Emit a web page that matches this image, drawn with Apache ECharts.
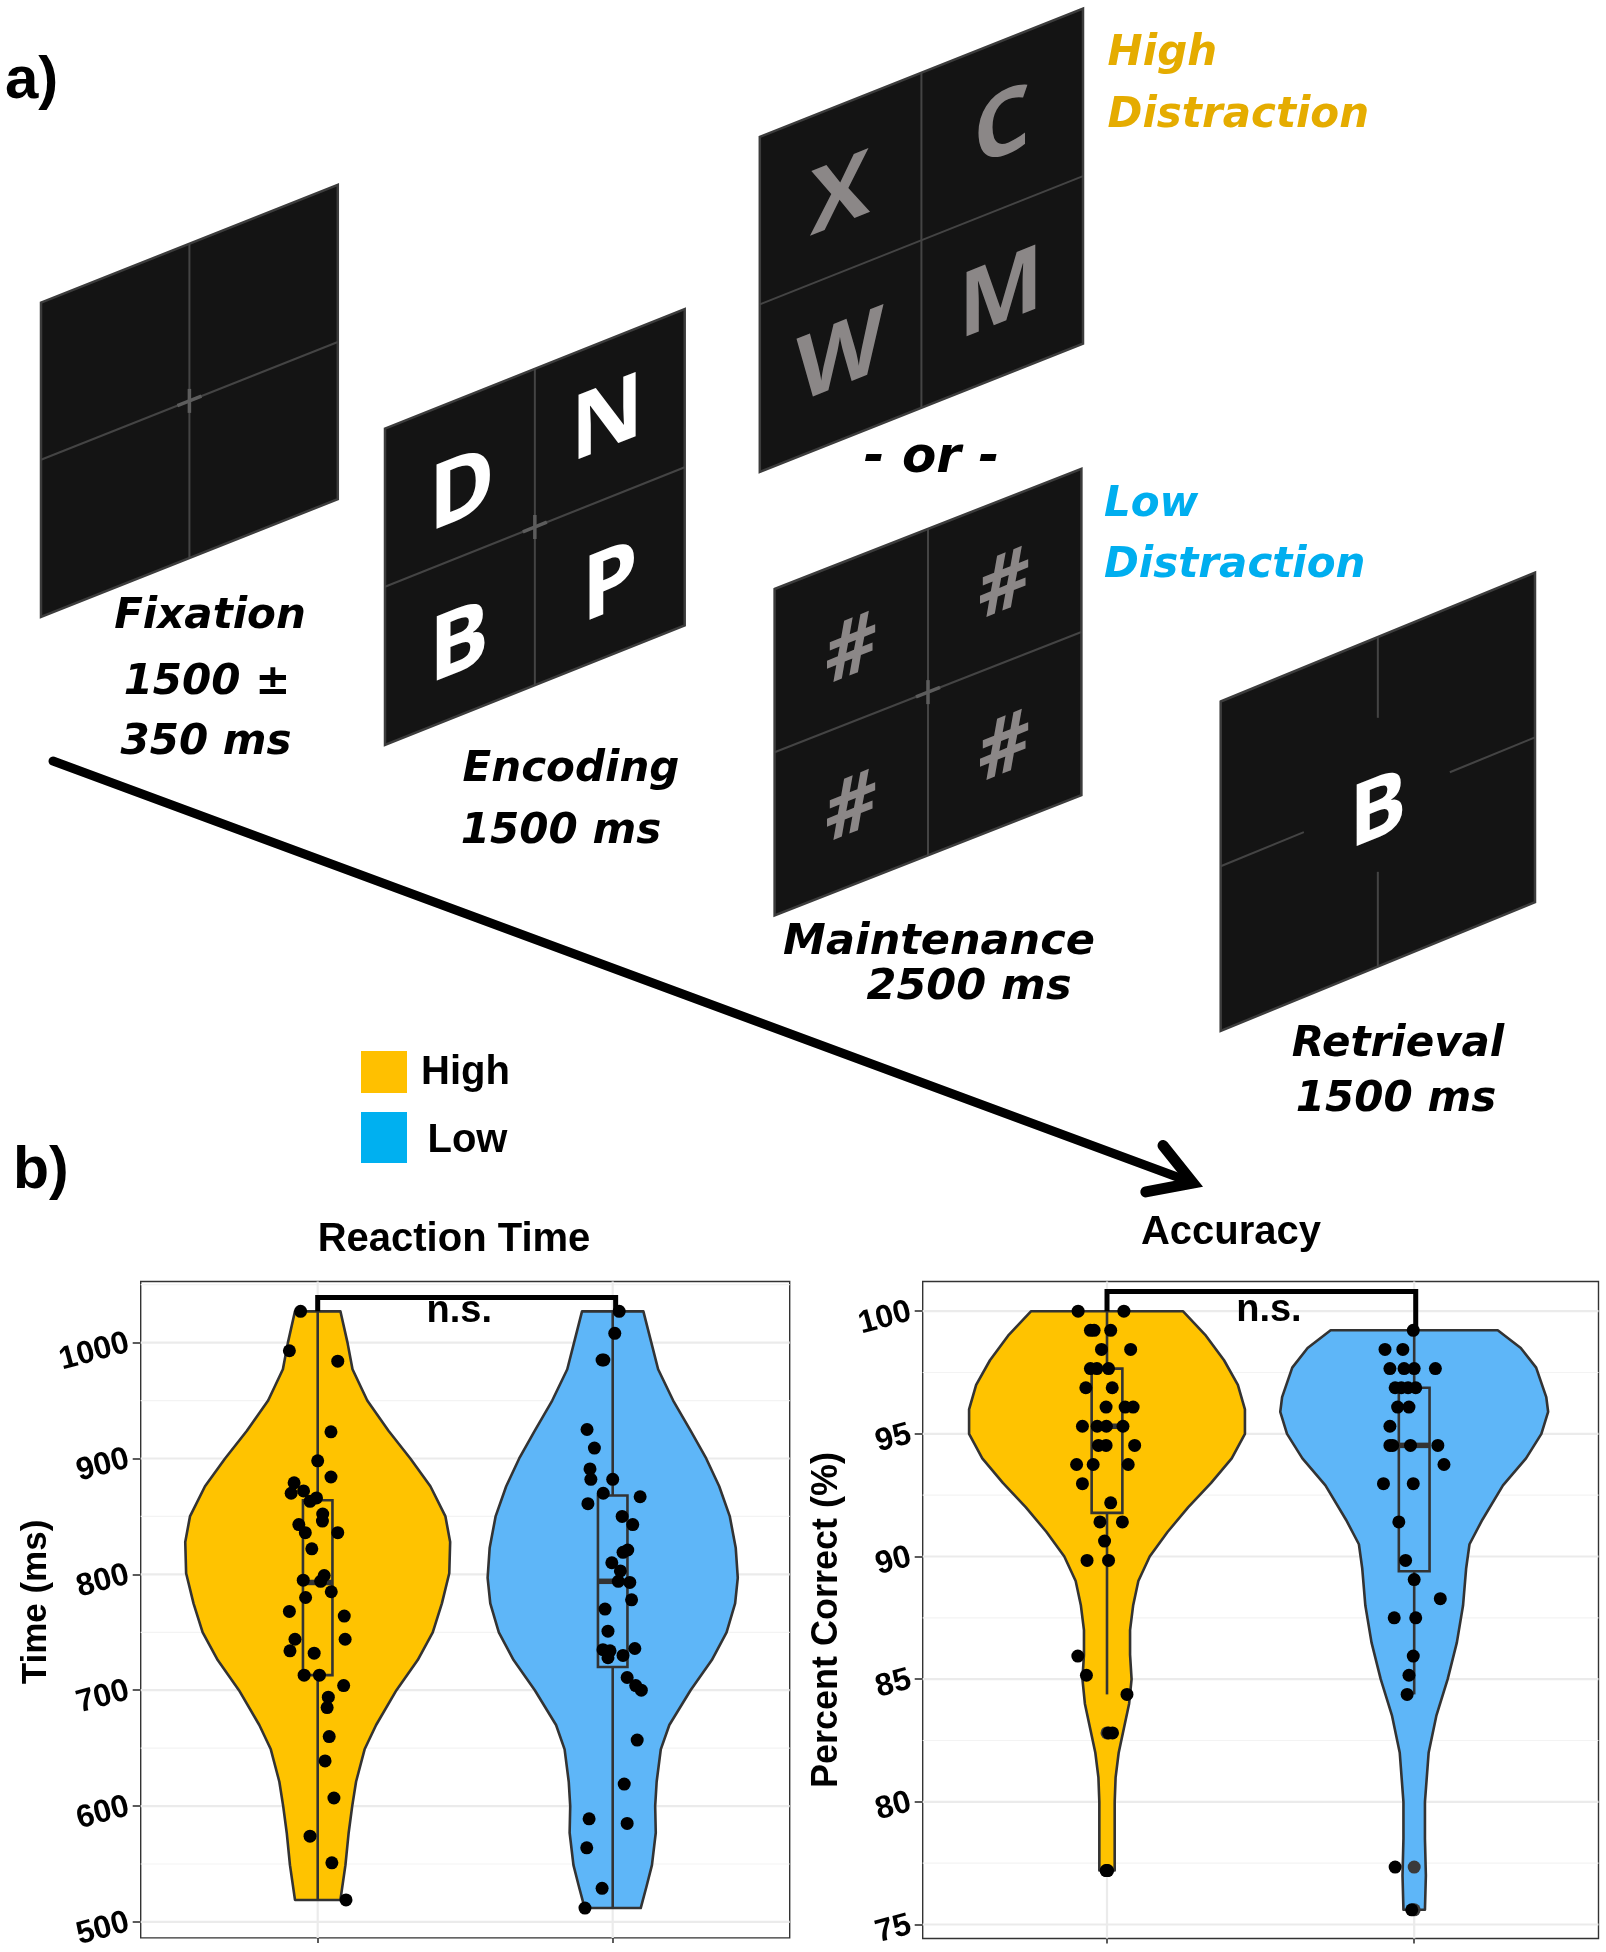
<!DOCTYPE html>
<html><head><meta charset="utf-8">
<script src="https://cdn.jsdelivr.net/npm/echarts@6/dist/echarts.min.js"></script>
<style>html,body{margin:0;padding:0;background:#fff}#c{width:1606px;height:1952px}</style>
</head><body><div id="c"></div>
<script>
// ================= DATA =================
const groups = ['High', 'Low'];
const groupColors = ['#FFC300', '#5EB6F8'];
const legendColors = ['#FFC000', '#00B0F0'];

// Reaction time: jittered points [x offset from category, ms]
const rtHighPts = [[-0.058,1027],[-0.096,993],[0.068,984],[0.045,923],[0,898],[0.045,884],[-0.08,879],[-0.09,870],[-0.048,872],[-0.004,866],[-0.026,863],[0.017,852],[0.016,846],[-0.064,843],[-0.042,836],[0.068,836],[-0.02,822],[0.022,799],[-0.049,795],[0.01,794],[0.046,785],[-0.041,780],[-0.096,768],[0.09,764],[-0.077,744],[0.093,744],[-0.094,734],[-0.012,732],[-0.046,713],[0.006,713],[0.088,704],[0.036,694],[0.032,685],[0.039,660],[0.025,639],[0.055,607],[-0.026,574],[0.048,551],[0.096,519]];
const rtLowPts = [[0.022,1027],[0.007,1008],[-0.036,985],[-0.03,985],[-0.087,925],[-0.062,909],[-0.077,891],[-0.074,882],[0,882],[-0.032,870],[0.093,867],[-0.084,861],[0.032,850],[0.068,843],[0.051,821],[0.035,819],[-0.003,810],[0.026,803],[0.019,794],[0.058,793],[0.064,778],[-0.026,770],[-0.016,751],[0.075,736],[-0.033,735],[-0.009,734],[0.035,730],[-0.016,728],[0.049,711],[0.078,704],[0.097,700],[0.083,657],[0.039,619],[-0.08,589],[0.049,585],[-0.088,564],[-0.036,529],[-0.094,512]];

// Reaction time violin outlines: values and half-widths (x units)
const rtHighViolinY = [1027,1000,977,950,924,900,876,850,828,801,775,750,726,700,670,649,621,600,577,549,519];
const rtHighViolinW = [0.077,0.101,0.118,0.168,0.24,0.314,0.382,0.433,0.449,0.446,0.421,0.39,0.339,0.267,0.198,0.159,0.13,0.117,0.105,0.094,0.077];
const rtLowViolinY = [1027,1000,977,950,924,900,876,850,823,797,775,750,726,700,670,649,621,600,577,549,531,512];
const rtLowViolinW = [0.104,0.131,0.154,0.205,0.264,0.317,0.361,0.397,0.417,0.424,0.415,0.386,0.336,0.264,0.192,0.163,0.149,0.144,0.146,0.133,0.115,0.095];

// Box stats [q1, median, q3, lower whisker, upper whisker]
const rtHighBox = [713, 793, 864, 519, 1027];
const rtLowBox = [720, 794, 868, 512, 1027];

// Accuracy
const accHighPts = [[-0.094,100],[0.055,100],[-0.054,99.22],[-0.042,99.22],[0.012,99.22],[-0.018,98.44],[0.077,98.44],[-0.054,97.66],[-0.033,97.66],[0.005,97.66],[-0.069,96.88],[0.017,96.88],[-0.003,96.09],[0.059,96.09],[0.085,96.09],[-0.08,95.31],[-0.032,95.31],[-0.002,95.31],[0.052,95.31],[-0.028,94.53],[-0.003,94.53],[0.09,94.53],[-0.099,93.75],[-0.045,93.75],[0.069,93.75],[-0.08,92.97],[0.012,92.19],[-0.023,91.41],[0.05,91.41],[-0.008,90.63],[-0.065,89.84],[0.005,89.84],[-0.095,85.94],[-0.067,85.16],[0.065,84.38],[0.005,82.81],[0.018,82.81],[-0.003,77.2],[0.002,77.2]];
const accLowPts = [[-0.003,99.22],[-0.095,98.44],[-0.037,98.44],[-0.079,97.66],[-0.033,97.66],[0,97.66],[0.069,97.66],[-0.062,96.88],[-0.042,96.88],[-0.02,96.88],[0.005,96.88],[-0.054,96.09],[-0.017,96.09],[-0.079,95.31],[-0.079,94.53],[-0.07,94.53],[-0.012,94.53],[0.077,94.53],[0.097,93.75],[-0.1,92.97],[-0.003,92.97],[-0.05,91.41],[-0.028,89.84],[0,89.06],[0.085,88.28],[-0.065,87.5],[0.005,87.5],[-0.003,85.94],[-0.017,85.16],[-0.023,84.38],[-0.062,77.34],[-0.008,75.6]];

const accHighViolinY = [100,99,98,97,96,95,94,93,92,91,90,89,88,87,86,85,84,83,82,81,80,78.5,77.2];
const accHighViolinW = [0.247,0.322,0.381,0.426,0.449,0.449,0.406,0.339,0.264,0.197,0.139,0.102,0.085,0.075,0.075,0.08,0.072,0.055,0.038,0.028,0.025,0.025,0.025];
const accLowViolinY = [99.22,98.5,97.7,96.5,95.9,95,94,92.9,91.5,90.5,89.5,88,86.5,85,83.5,82,80,78.5,77,75.6];
const accLowViolinW = [0.272,0.347,0.397,0.43,0.436,0.414,0.364,0.289,0.222,0.18,0.169,0.159,0.139,0.109,0.072,0.047,0.035,0.035,0.038,0.035];

const accHighBox = [91.78, 95.31, 97.66, 84.38, 100];
const accLowBox = [89.4, 94.53, 96.88, 84.38, 99.22];
const accHighOutliers = [82.81, 77.2];
const accLowOutliers = [77.34, 75.6];

// Significance brackets: [x, y] path and label
const rtBracket = [[1, 1027], [1, 1039], [2.01, 1039], [2.01, 1027]];
const rtBracketLabel = [1.48, 1025, 'n.s.'];
const accBracket = [[1, 100], [1, 100.8], [2.005, 100.8], [2.005, 99.22]];
const accBracketLabel = [1.527, 99.95, 'n.s.'];

// Axes
const rtTicks = [500, 600, 700, 800, 900, 1000];
const rtMinor = [550, 650, 750, 850, 950, 1050];
const accTicks = [75, 80, 85, 90, 95, 100];
const accMinor = [77.5, 82.5, 87.5, 92.5, 97.5];
const rtRange = [486.25, 1052.75];
const accRange = [74.43, 101.21];
const xRange = [0.4, 2.6];

// ================= HELPERS =================
const DARK = '#333333';
function gridLineSeries(gi, values, width, color, vertical) {
  return {
    type: 'custom', xAxisIndex: gi, yAxisIndex: gi, z: 1, silent: true,
    data: values.map(v => vertical ? [v, 0] : [0, v]),
    renderItem(params, api) {
      const cs = params.coordSys;
      if (vertical) {
        const x = api.coord([api.value(0), gi === 0 ? rtRange[0] : accRange[0]])[0];
        return { type: 'line', shape: { x1: x, y1: cs.y, x2: x, y2: cs.y + cs.height }, style: { stroke: color, lineWidth: width } };
      }
      const y = api.coord([xRange[0], api.value(1)])[1];
      return { type: 'line', shape: { x1: cs.x, y1: y, x2: cs.x + cs.width, y2: y }, style: { stroke: color, lineWidth: width } };
    }
  };
}
function violinSeries(gi, center, ys, ws, fill) {
  const pts = [];
  ys.forEach((y, i) => pts.push([center + ws[i], y]));
  for (let i = ys.length - 1; i >= 0; i--) pts.push([center - ws[i], ys[i]]);
  return {
    type: 'custom', xAxisIndex: gi, yAxisIndex: gi, z: 2, silent: true, data: pts,
    renderItem(params, api) {
      if (params.dataIndex !== 0) return null;
      return { type: 'polygon', shape: { points: pts.map(p => api.coord(p)) },
        style: { fill: fill, stroke: DARK, lineWidth: 2.6, lineJoin: 'round' } };
    }
  };
}
function boxSeries(gi, center, s) {
  return {
    type: 'custom', xAxisIndex: gi, yAxisIndex: gi, z: 3, silent: true, data: [[center, s[1]]],
    renderItem(params, api) {
      const [q1, med, q3, lo, hi] = s;
      const hw = 0.05;
      const pLo = api.coord([center, lo]), pQ1 = api.coord([center, q1]);
      const pQ3 = api.coord([center, q3]), pHi = api.coord([center, hi]);
      const l = api.coord([center - hw, q1])[0], r = api.coord([center + hw, q1])[0];
      const ym = api.coord([center, med])[1];
      const st = { stroke: DARK, lineWidth: 2.6 };
      return { type: 'group', children: [
        { type: 'line', shape: { x1: pLo[0], y1: pLo[1], x2: pQ1[0], y2: pQ1[1] }, style: st },
        { type: 'line', shape: { x1: pQ3[0], y1: pQ3[1], x2: pHi[0], y2: pHi[1] }, style: st },
        { type: 'rect', shape: { x: l, y: pQ3[1], width: r - l, height: pQ1[1] - pQ3[1] }, style: { fill: 'none', stroke: DARK, lineWidth: 2.6 } },
        { type: 'line', shape: { x1: l, y1: ym, x2: r, y2: ym }, style: { stroke: DARK, lineWidth: 5.5 } }
      ] };
    }
  };
}
function pointSeries(gi, center, pts) {
  return { type: 'scatter', xAxisIndex: gi, yAxisIndex: gi, z: 5, silent: true, symbolSize: 13,
    itemStyle: { color: '#000', opacity: 1 }, data: pts.map(p => [center + p[0], p[1]]) };
}
function outlierSeries(gi, center, vals) {
  return { type: 'scatter', xAxisIndex: gi, yAxisIndex: gi, z: 4, silent: true, symbolSize: 13,
    itemStyle: { color: '#3a3a3a', opacity: 1 }, data: vals.map(v => [center, v]) };
}
function bracketSeries(gi, path, label) {
  return {
    type: 'custom', xAxisIndex: gi, yAxisIndex: gi, z: 6, silent: true, data: [[label[0], label[1]]],
    renderItem(params, api) {
      const p = api.coord([label[0], label[1]]);
      return { type: 'group', children: [
        { type: 'polyline', shape: { points: path.map(q => api.coord(q)) }, style: { stroke: '#000', lineWidth: 5, fill: 'none', lineJoin: 'miter' } },
        { type: 'text', x: p[0], y: p[1] - 2, style: { text: label[2], font: 'bold 38px "Liberation Sans", Arial, sans-serif', fill: '#000', align: 'center', verticalAlign: 'middle' } }
      ] };
    }
  };
}
function yAxis(gi, range, ticks) {
  return {
    gridIndex: gi, type: 'value', min: range[0], max: range[1],
    axisLine: { show: false }, splitLine: { show: false },
    axisTick: { show: true, customValues: ticks, length: 8, lineStyle: { color: DARK, width: 1.6 } },
    axisLabel: { customValues: ticks, rotate: 15, margin: 12, color: '#000', fontSize: 32, fontWeight: 'bold',
      fontFamily: '"Liberation Sans", Arial, sans-serif', formatter: v => String(v) }
  };
}
function xAxis(gi) {
  return {
    gridIndex: gi, type: 'value', min: xRange[0], max: xRange[1],
    axisLine: { show: false }, splitLine: { show: false },
    axisTick: { show: true, customValues: [1, 2], length: 5, lineStyle: { color: DARK, width: 1.6 } },
    axisLabel: { show: false }
  };
}

// ================= PANEL (a) GRAPHICS =================
const G = [];
const SCREEN_FILL = '#141414', SCREEN_EDGE = '#3c3c3c', DIV = '#444444';
function screen(x0, yTop, w, h, k, opts) {
  const pts = [[x0, yTop], [x0 + w, yTop - k * w], [x0 + w, yTop - k * w + h], [x0, yTop + h]];
  G.push({ type: 'polygon', shape: { points: pts }, style: { fill: SCREEN_FILL, stroke: SCREEN_EDGE, lineWidth: 2.5 } });
  const mx = x0 + w / 2;
  const topY = yTop - k * w / 2, botY = topY + h;
  const lY = yTop + h / 2, rY = lY - k * w;
  const cy = (lY + rY) / 2;
  if (opts && opts.gap) {
    const g = opts.gap;
    G.push({ type: 'line', shape: { x1: mx, y1: topY, x2: mx, y2: cy - g[1] }, style: { stroke: DIV, lineWidth: 2 } });
    G.push({ type: 'line', shape: { x1: mx, y1: cy + g[2], x2: mx, y2: botY }, style: { stroke: DIV, lineWidth: 2 } });
    G.push({ type: 'line', shape: { x1: x0, y1: lY, x2: mx - g[0], y2: lY - k * (w / 2 - g[0]) }, style: { stroke: DIV, lineWidth: 2 } });
    G.push({ type: 'line', shape: { x1: mx + g[3], y1: rY + k * (w / 2 - g[3]), x2: x0 + w, y2: rY }, style: { stroke: DIV, lineWidth: 2 } });
  } else {
    G.push({ type: 'line', shape: { x1: mx, y1: topY, x2: mx, y2: botY }, style: { stroke: DIV, lineWidth: 2 } });
    G.push({ type: 'line', shape: { x1: x0, y1: lY, x2: x0 + w, y2: rY }, style: { stroke: DIV, lineWidth: 2 } });
  }
  if (opts && opts.cross) {
    const a = 12;
    G.push({ type: 'line', shape: { x1: mx, y1: cy - a, x2: mx, y2: cy + a }, style: { stroke: '#5c5c5c', lineWidth: 3.5 } });
    G.push({ type: 'line', shape: { x1: mx - a, y1: cy + k * a, x2: mx + a, y2: cy - k * a }, style: { stroke: '#5c5c5c', lineWidth: 3.5 } });
  }
}
// vertical shear (y' = y - k x) expressed as rotation * scale * rotation
function shear(k) {
  const Q = Math.sqrt(1 + k * k / 4), R = k / 2;
  const a1 = Math.atan2(-k / 2, 0), a2 = Math.atan2(-k / 2, 1);
  return { sx: Q + R, sy: Q - R, outer: -(a2 + a1) / 2, inner: -(a2 - a1) / 2 };
}
const SH = shear(0.40);
function letter(ch, x, y, size, color) {
  G.push({ type: 'group', x: x, y: y, rotation: SH.outer, scaleX: SH.sx, scaleY: SH.sy,
    children: [{ type: 'text', x: 0, y: 0, rotation: SH.inner, z: 10,
      style: { text: ch, font: 'bold ' + size + 'px "Open Sans", "Noto Sans", sans-serif', fill: color, align: 'center', verticalAlign: 'middle' } }] });
}
function label(t, x, y, size, color, align, fontSpec) {
  G.push({ type: 'text', x: x, y: y, z: 10,
    style: { text: t, font: fontSpec || ('italic bold ' + size + 'px "DejaVu Sans", sans-serif'), fill: color || '#000', align: align || 'center', verticalAlign: 'middle' } });
}

// screens
screen(41, 302.6, 296.8, 314.4, 0.397, { cross: true });
screen(385, 428.6, 299.7, 316.4, 0.399, { cross: true });
screen(759.8, 136.8, 323.2, 335.2, 0.397, {});
screen(774.6, 589, 306.8, 326.5, 0.392, { cross: true });
screen(1220.7, 701.5, 314.3, 329.5, 0.41, { gap: [74, 84, 70, 72] });

const WHITE = '#ffffff', GRAYL = '#8b8787';
letter('D', 461.7, 493, 90, WHITE); letter('N', 607, 422, 90, WHITE);
letter('B', 459, 646, 90, WHITE); letter('P', 609.7, 586, 90, WHITE);
letter('X', 840, 198, 90, GRAYL); letter('C', 1002, 130, 90, GRAYL);
letter('W', 840, 360, 90, GRAYL); letter('M', 1001, 297, 90, GRAYL);
letter('#', 851, 652, 80, GRAYL); letter('#', 1004, 587, 80, GRAYL);
letter('#', 851, 810, 80, GRAYL); letter('#', 1004, 750, 80, GRAYL);
letter('B', 1378, 813, 86, WHITE);

label('Fixation', 210, 617.5, 42);
label('1500 \u00b1', 207, 683.5, 42);
label('350 ms', 206, 743.5, 42);
label('Encoding', 571, 770.5, 42);
label('1500 ms', 561, 832.5, 42);
label('Maintenance', 939, 942.5, 43);
label('2500 ms', 969, 987.5, 43);
label('Retrieval', 1398, 1045.5, 42);
label('1500 ms', 1396, 1100.5, 42);
label('- or -', 931.5, 458.6, 50);
label('High', 1107.6, 54, 42, '#E5AC00', 'left');
label('Distraction', 1107.6, 116, 42, '#E5AC00', 'left');
label('Low', 1104, 505.5, 42, '#00AEEF', 'left');
label('Distraction', 1104, 566.5, 42, '#00AEEF', 'left');

// arrow
(function () {
  const x1 = 53, y1 = 761, x2 = 1193, y2 = 1183;
  G.push({ type: 'line', shape: { x1, y1, x2: x2 - 5, y2: y2 - 2 }, style: { stroke: '#000', lineWidth: 9, lineCap: 'round' } });
  const ang = Math.atan2(y1 - y2, x1 - x2), L = 48, d = 31 * Math.PI / 180;
  G.push({ type: 'polyline', shape: { points: [[x2 + L * Math.cos(ang + d), y2 + L * Math.sin(ang + d)], [x2, y2], [x2 + L * Math.cos(ang - d), y2 + L * Math.sin(ang - d)]] },
    style: { stroke: '#000', lineWidth: 11, lineCap: 'round', lineJoin: 'miter', fill: 'none' } });
})();

// panel letters
label('a)', 5, 81.4, 60, '#000', 'left', 'bold 60px "Liberation Sans", Arial, sans-serif');
label('b)', 13, 1171.7, 59, '#000', 'left', 'bold 59px "Liberation Sans", Arial, sans-serif');

// legend
G.push({ type: 'rect', shape: { x: 361, y: 1051, width: 46, height: 42 }, style: { fill: legendColors[0] } });
G.push({ type: 'rect', shape: { x: 361, y: 1112, width: 46, height: 51 }, style: { fill: legendColors[1] } });
label(groups[0], 421, 1072.6, 40, '#000', 'left', 'bold 40px "Liberation Sans", Arial, sans-serif');
label(groups[1], 427.5, 1140.6, 40, '#000', 'left', 'bold 40px "Liberation Sans", Arial, sans-serif');

// titles and axis names
label('Reaction Time', 454, 1239.6, 40, '#000', 'center', 'bold 40px "Liberation Sans", Arial, sans-serif');
label('Accuracy', 1231, 1232.6, 40, '#000', 'center', 'bold 40px "Liberation Sans", Arial, sans-serif');
G.push({ type: 'text', x: 36, y: 1602, rotation: Math.PI / 2, z: 10,
  style: { text: 'Time (ms)', font: 'bold 35px "Liberation Sans", Arial, sans-serif', fill: '#000', align: 'center', verticalAlign: 'middle' } });
G.push({ type: 'text', x: 827, y: 1620, rotation: Math.PI / 2, z: 10,
  style: { text: 'Percent Correct (%)', font: 'bold 36px "Liberation Sans", Arial, sans-serif', fill: '#000', align: 'center', verticalAlign: 'middle' } });

// ================= CHART =================
const chart = echarts.init(document.getElementById('c'), null, { renderer: 'canvas' });
const option = {
  animation: false,
  backgroundColor: '#ffffff',
  grid: [
    { left: 140.7, top: 1281.5, width: 649, height: 657, show: true, backgroundColor: '#fff', borderColor: DARK, borderWidth: 1.4 },
    { left: 922.7, top: 1281.5, width: 675.8, height: 657, show: true, backgroundColor: '#fff', borderColor: DARK, borderWidth: 1.4 }
  ],
  xAxis: [xAxis(0), xAxis(1)],
  yAxis: [yAxis(0, rtRange, rtTicks), yAxis(1, accRange, accTicks)],
  graphic: G,
  series: [
    gridLineSeries(0, rtMinor, 1.2, '#F3F3F3', false),
    gridLineSeries(0, rtTicks, 2.2, '#EBEBEB', false),
    gridLineSeries(0, [1, 2], 2.2, '#EBEBEB', true),
    gridLineSeries(1, accMinor, 1.2, '#F3F3F3', false),
    gridLineSeries(1, accTicks, 2.2, '#EBEBEB', false),
    gridLineSeries(1, [1, 2], 2.2, '#EBEBEB', true),
    violinSeries(0, 1, rtHighViolinY, rtHighViolinW, groupColors[0]),
    violinSeries(0, 2, rtLowViolinY, rtLowViolinW, groupColors[1]),
    violinSeries(1, 1, accHighViolinY, accHighViolinW, groupColors[0]),
    violinSeries(1, 2, accLowViolinY, accLowViolinW, groupColors[1]),
    boxSeries(0, 1, rtHighBox), boxSeries(0, 2, rtLowBox),
    boxSeries(1, 1, accHighBox), boxSeries(1, 2, accLowBox),
    outlierSeries(1, 1, accHighOutliers), outlierSeries(1, 2, accLowOutliers),
    pointSeries(0, 1, rtHighPts), pointSeries(0, 2, rtLowPts),
    pointSeries(1, 1, accHighPts), pointSeries(1, 2, accLowPts),
    bracketSeries(0, rtBracket, rtBracketLabel),
    bracketSeries(1, accBracket, accBracketLabel)
  ]
};
chart.setOption(option);
</script>
</body></html>
